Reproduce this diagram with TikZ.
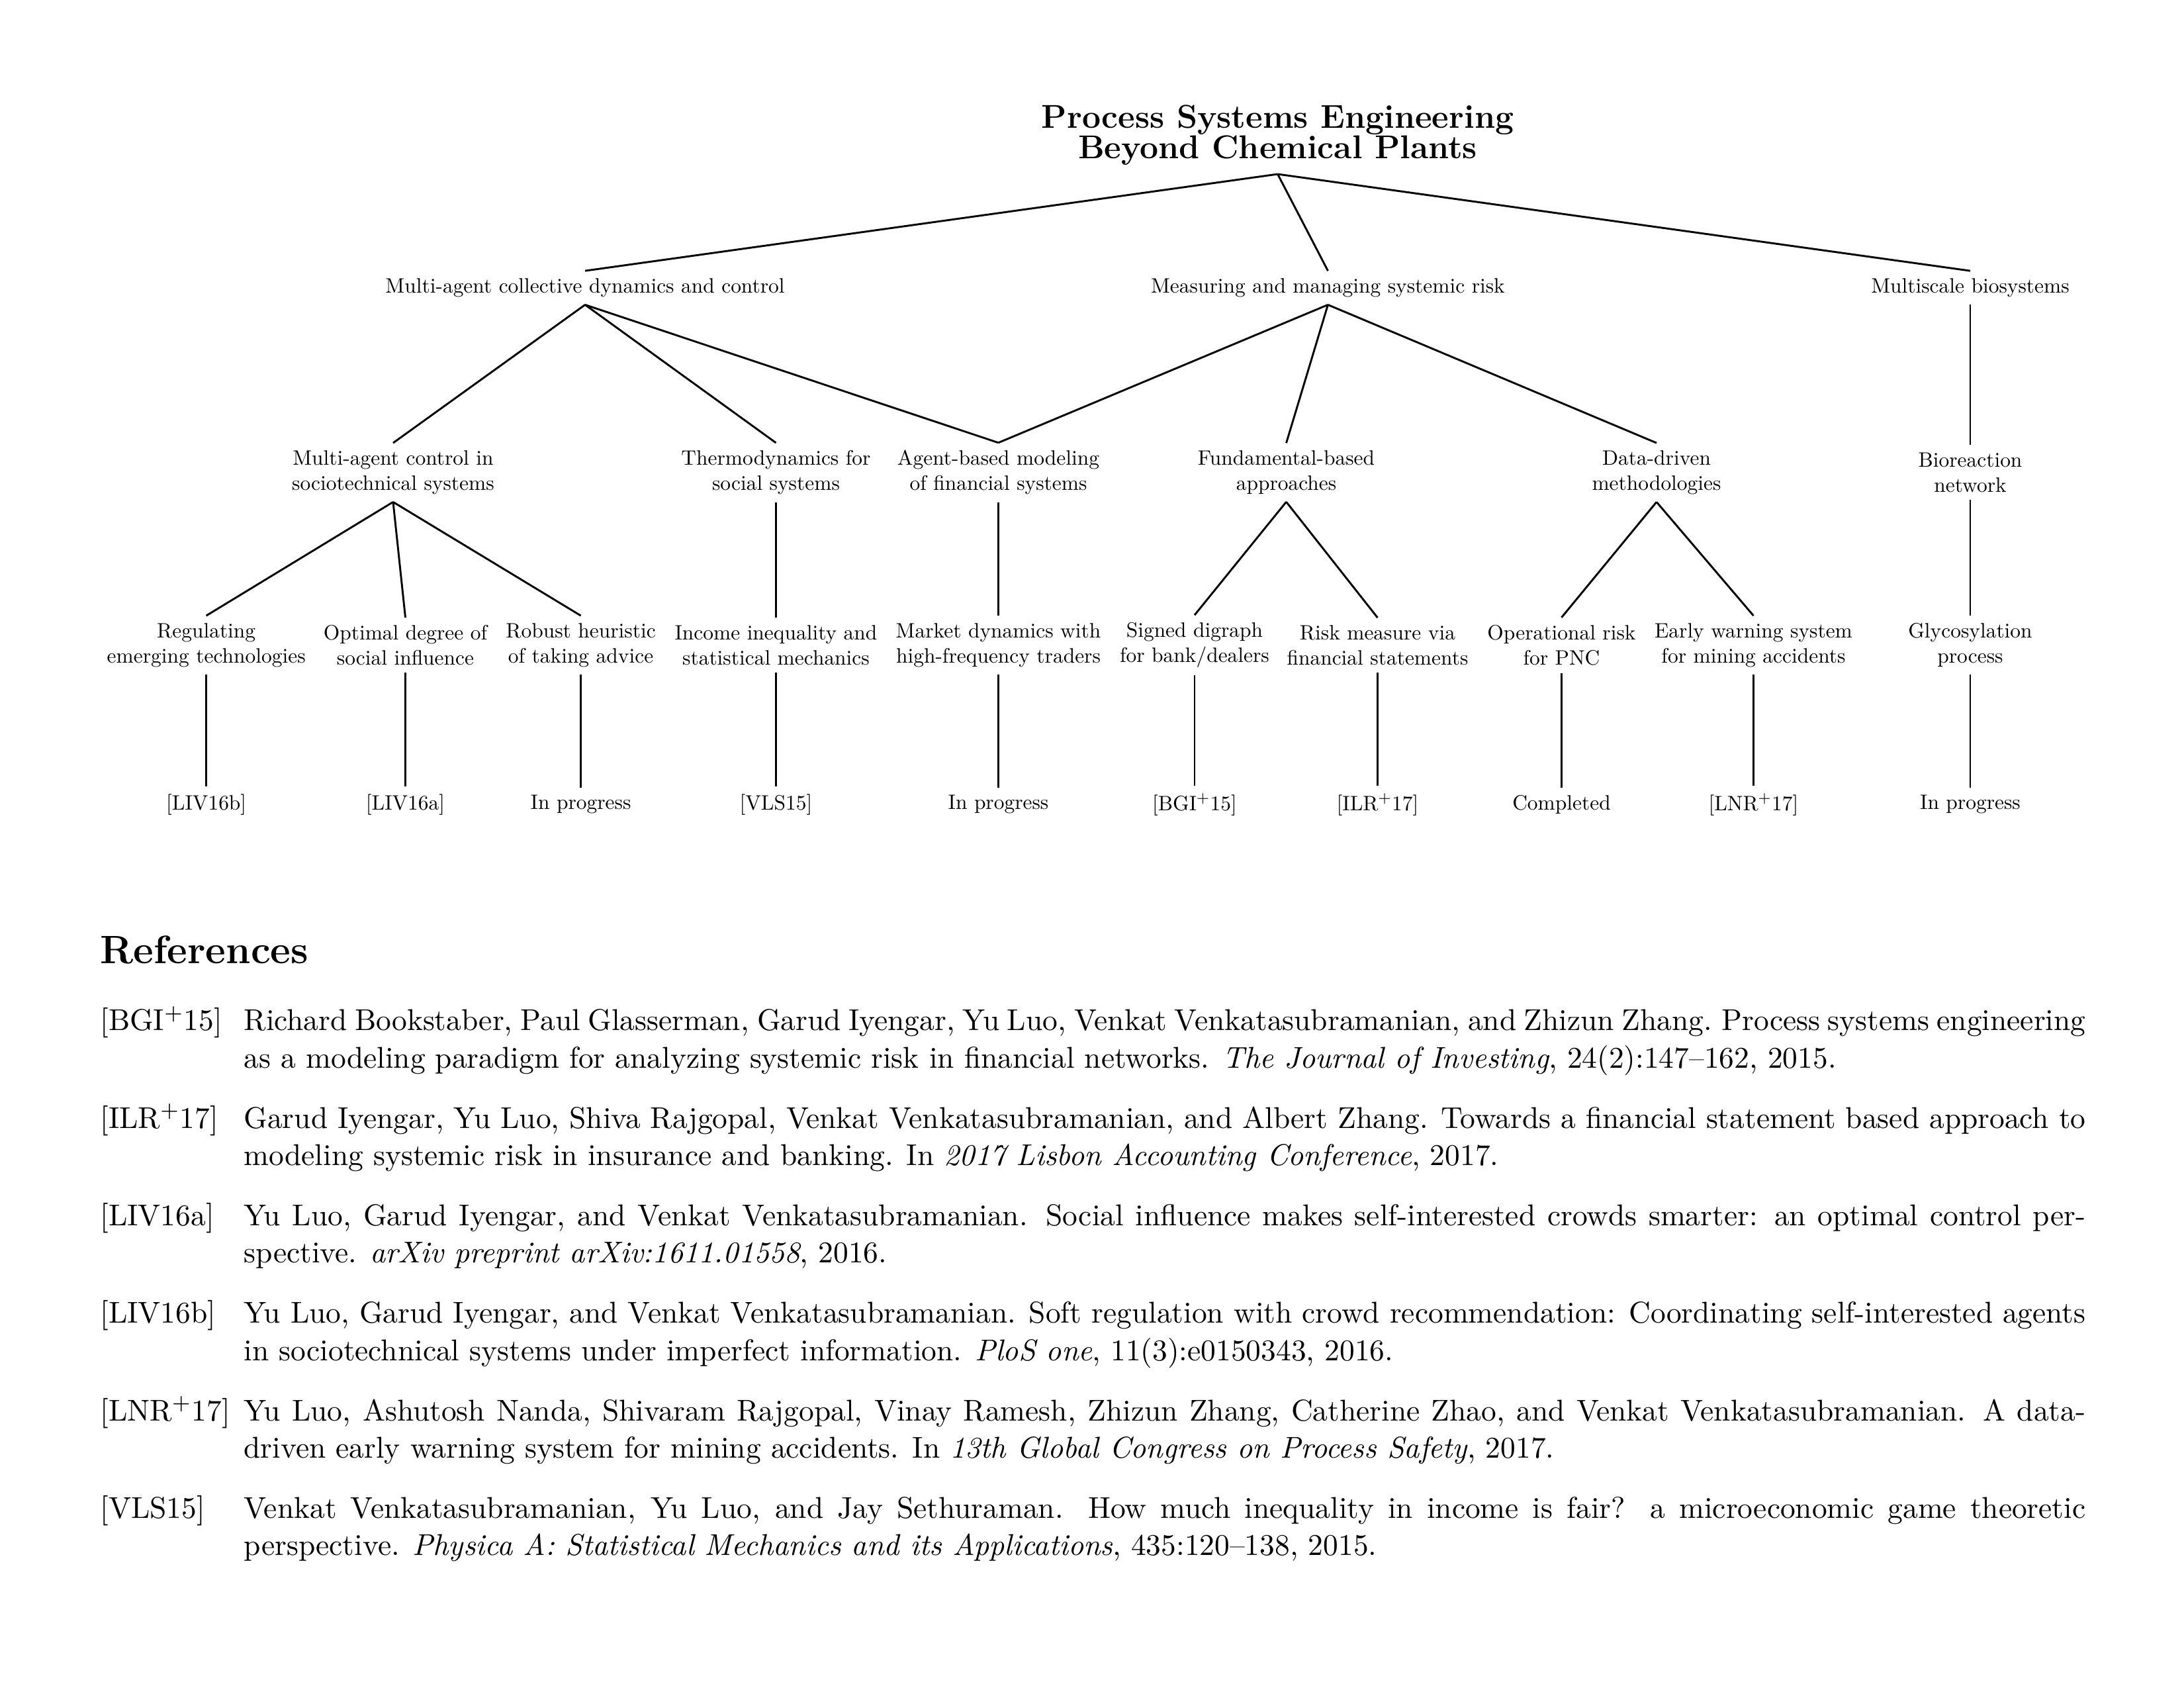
\documentclass[tikz,border=0pt,11pt]{standalone}

\newcommand\bibsetup{\sloppy\sfcode`\.=1000\relax}
\newcommand\nblk{\hskip .11em plus .33em minus .07em}

\tikzset{
  topic/.style={align=center, scale=0.692, font=\fontsize{10.95}{13.2}\selectfont},
  reflabel/.style={anchor=base west, inner sep=0pt, font=\fontsize{10.95}{13.6}\selectfont},
  reftext/.style={reflabel, text width=23.562cm, align=justify, execute at begin node=\bibsetup},
}

\begin{document}
\begin{tikzpicture}[line width=0.7pt]
\useasboundingbox (0,0) rectangle (27.94,-21.59);

\node[align=center, font=\bfseries\fontsize{12}{11.2}\selectfont, inner sep=2.8pt, anchor=south] (PSE) at (16.345,-2.227) {Process Systems Engineering\\Beyond Chemical Plants};

% first level
\node[topic] (Multiagent) at (7.485,-3.681) {Multi-agent collective dynamics and control};
\node[topic] (Risk) at (16.988,-3.681) {Measuring and managing systemic risk};
\node[topic] (Bio) at (25.205,-3.681) {Multiscale biosystems};

% second level
\node[topic] (Sociotech) at (5.029,-6.043) {Multi-agent control in\\sociotechnical systems};
\node[topic] (Thermo) at (9.927,-6.043) {Thermodynamics for\\social systems};
\node[topic] (Agent) at (12.772,-6.043) {Agent-based modeling\\of financial systems};
\node[topic] (Fundamental) at (16.455,-6.043) {Fundamental-based\\approaches};
\node[topic] (Data) at (21.192,-6.043) {Data-driven\\methodologies};
\node[topic] (Bioreaction) at (25.205,-6.043) {Bioreaction\\network};

% third level
\node[topic] (Regulating) at (2.639,-8.252) {Regulating\\emerging technologies};
\node[topic] (Optimal) at (5.186,-8.252) {Optimal degree of\\social influence};
\node[topic] (Robust) at (7.430,-8.252) {Robust heuristic\\of taking advice};
\node[topic] (Income) at (9.927,-8.252) {Income inequality and\\statistical mechanics};
\node[topic] (Market) at (12.772,-8.252) {Market dynamics with\\high-frequency traders};
\node[topic] (Digraph) at (15.282,-8.252) {Signed digraph\\for bank/dealers};
\node[topic] (Statements) at (17.623,-8.252) {Risk measure via\\financial statements};
\node[topic] (Operational) at (19.977,-8.252) {Operational risk\\for PNC};
\node[topic] (Mining) at (22.432,-8.252) {Early warning system\\for mining accidents};
\node[topic] (Glyco) at (25.205,-8.252) {Glycosylation\\process};

% status of each project
\node[topic] (Regulating Ref) at (2.639,-10.290) {[LIV16b]};
\node[topic] (Optimal Ref) at (5.186,-10.290) {[LIV16a]};
\node[topic] (Robust Ref) at (7.430,-10.290) {In progress};
\node[topic] (Income Ref) at (9.927,-10.290) {[VLS15]};
\node[topic] (Market Ref) at (12.772,-10.290) {In progress};
\node[topic] (Digraph Ref) at (15.282,-10.290) {[BGI$^+$15]};
\node[topic] (Statements Ref) at (17.623,-10.290) {[ILR$^+$17]};
\node[topic] (Operational Ref) at (19.977,-10.290) {Completed};
\node[topic] (Mining Ref) at (22.432,-10.290) {[LNR$^+$17]};
\node[topic] (Glyco Ref) at (25.205,-10.290) {In progress};

\draw (PSE.south) -- (Multiagent.north);
\draw (PSE.south) -- (Risk.north);
\draw (PSE.south) -- (Bio.north);

\draw (Multiagent.south) -- (Sociotech.north);
\draw (Multiagent.south) -- (Thermo.north);
\draw (Multiagent.south) -- (Agent.north);
\draw (Risk.south) -- (Agent.north);
\draw (Risk.south) -- (Fundamental.north);
\draw (Risk.south) -- (Data.north);
\draw (Bio.south) -- (Bioreaction.north);

\draw (Sociotech.south) -- (Regulating.north);
\draw (Sociotech.south) -- (Optimal.north);
\draw (Sociotech.south) -- (Robust.north);
\draw (Thermo.south) -- (Income.north);
\draw (Agent.south) -- (Market.north);
\draw (Fundamental.south) -- (Digraph.north);
\draw (Fundamental.south) -- (Statements.north);
\draw (Data.south) -- (Operational.north);
\draw (Data.south) -- (Mining.north);
\draw (Bioreaction.south) -- (Glyco.north);

\draw (Regulating.south) -- (Regulating Ref.north);
\draw (Optimal.south) -- (Optimal Ref.north);
\draw (Robust.south) -- (Robust Ref.north);
\draw (Income.south) -- (Income Ref.north);
\draw (Market.south) -- (Market Ref.north);
\draw (Digraph.south) -- (Digraph Ref.north);
\draw (Statements.south) -- (Statements Ref.north);
\draw (Operational.south) -- (Operational Ref.north);
\draw (Mining.south) -- (Mining Ref.north);
\draw (Glyco.south) -- (Glyco Ref.north);

% bibliography
\node[anchor=base west, inner sep=0pt, font=\bfseries\Large] (References) at (1.27,-12.319) {References};

\node[reflabel] (BGI Label) at (1.27,-13.180) {[BGI$^+$15]};
\node[reftext] (BGI) at (3.108,-13.180) {Richard Bookstaber, Paul Glasserman, Garud Iyengar, Yu Luo, Venkat Venkatasubramanian, and Zhizun Zhang.\nblk{} Process systems engineering as a modeling paradigm for analyzing systemic risk in financial networks.\nblk{} \emph{The Journal of Investing}, 24(2):147--162, 2015.};

\node[reflabel] (ILR Label) at (1.27,-14.428) {[ILR$^+$17]};
\node[reftext] (ILR) at (3.108,-14.428) {Garud Iyengar, Yu Luo, Shiva Rajgopal, Venkat Venkatasubramanian, and Albert Zhang.\nblk{} Towards a financial statement based approach to modeling systemic risk in insurance and banking.\nblk{} In \emph{2017 Lisbon Accounting Conference}, 2017.};

\node[reflabel] (LIVa Label) at (1.27,-15.675) {[LIV16a]};
\node[reftext] (LIVa) at (3.108,-15.675) {Yu Luo, Garud Iyengar, and Venkat Venkatasubramanian.\nblk{} Social influence makes self-interested crowds smarter: an optimal control perspective.\nblk{} \emph{arXiv preprint arXiv:1611.01558}, 2016.};

\node[reflabel] (LIVb Label) at (1.27,-16.922) {[LIV16b]};
\node[reftext] (LIVb) at (3.108,-16.922) {Yu Luo, Garud Iyengar, and Venkat Venkatasubramanian.\nblk{} Soft regulation with crowd recommendation: Coordinating self-interested agents in sociotechnical systems under imperfect information.\nblk{} \emph{PloS one}, 11(3):e0150343, 2016.};

\node[reflabel] (LNR Label) at (1.27,-18.170) {[LNR$^+$17]};
\node[reftext] (LNR) at (3.108,-18.170) {Yu Luo, Ashutosh Nanda, Shivaram Rajgopal, Vinay Ramesh, Zhizun Zhang, Catherine Zhao, and Venkat Venkatasubramanian.\nblk{} A data-driven early warning system for mining accidents.\nblk{} In \emph{13th Global Congress on Process Safety}, 2017.};

\node[reflabel] (VLS Label) at (1.27,-19.417) {[VLS15]};
\node[reftext] (VLS) at (3.108,-19.417) {Venkat Venkatasubramanian, Yu Luo, and Jay Sethuraman.\nblk{} How much inequality in income is fair? a microeconomic game theoretic perspective.\nblk{} \emph{Physica A: Statistical Mechanics and its Applications}, 435:120--138, 2015.};
\end{tikzpicture}
\end{document}
